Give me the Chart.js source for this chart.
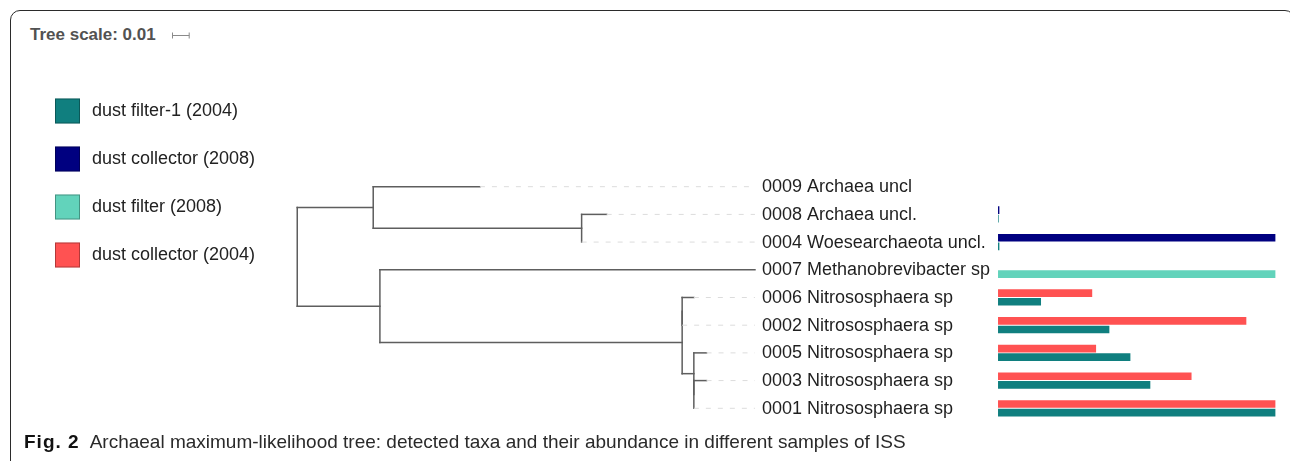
<!DOCTYPE html>
<html>
<head>
<meta charset="utf-8">
<title>Archaeal maximum-likelihood tree</title>
<script src="https://cdn.jsdelivr.net/npm/chart.js@4.4.1/dist/chart.umd.min.js"></script>
<style>
  html, body { margin: 0; padding: 0; background: #fff; overflow: hidden; }
  #wrap { position: relative; width: 1290px; height: 461px; overflow: hidden; }
  #frame {
    position: absolute; left: 10px; top: 10px; width: 1285px; height: 480px;
    box-sizing: border-box; border: 1.5px solid #2b2b2b; border-radius: 10px;
  }
  #title {
    position: absolute; left: 30px; top: 25px; line-height: 18px; white-space: nowrap;
    font: bold 17px "Liberation Sans", Arial, sans-serif; color: #525252;
  }
  #caption {
    position: absolute; left: 24px; top: 431px; line-height: 19px; white-space: nowrap;
    font: 19px "Liberation Sans", Arial, sans-serif; color: #2a2a2a;
  }
  #caption b { font-weight: bold; color: #111; margin-right: 10px; letter-spacing: 1px; }
  canvas { position: absolute; left: 0; top: 0; }
</style>
</head>
<body>
<div id="wrap">
  <div id="frame"></div>
  <div id="title">Tree scale: 0.01</div>
  <canvas id="tree" width="1290" height="461"></canvas>
  <div id="caption"><b>Fig. 2</b>Archaeal maximum-likelihood tree: detected taxa and their abundance in different samples of ISS</div>
</div>
<script>
// Leaves, listed top to bottom
const taxa = [
  '0009 Archaea uncl',
  '0008 Archaea uncl.',
  '0004 Woesearchaeota uncl.',
  '0007 Methanobrevibacter sp',
  '0006 Nitrososphaera sp',
  '0002 Nitrososphaera sp',
  '0005 Nitrososphaera sp',
  '0003 Nitrososphaera sp',
  '0001 Nitrososphaera sp'
];
const taxonParent = ['U', 'N', 'N', 'L', 'F', 'F', 'C', 'E', 'E'];
const taxonBranch = [0.0639, 0.0150, 0, 0.2246, 0.0070, 0, 0.0076, 0.0076, 0];

// Internal nodes (substitutions per site)
const cladeIds    = ['root', 'U', 'N', 'L', 'A', 'F', 'C', 'E'];
const cladeParent = [null, 'root', 'U', 'root', 'L', 'A', 'A', 'C'];
const cladeBranch = [0, 0.0455, 0.1248, 0.0495, 0.1810, 0, 0.0070, 0];

const treeScaleStep = 0.01;

// Relative abundance per taxon (% of series maximum); null = not detected
const seriesNames = ['dust collector (2008)', 'dust collector (2004)', 'dust filter-1 (2004)', 'dust filter (2008)'];
const dustCollector2008 = [null, 0.25, 100, null, null, null, null, null, null];
const dustCollector2004 = [null, null, null, null, 33.8, 89.5, 35.2, 69.7, 100];
const dustFilter1_2004  = [null, 0, 0.25, null, 15.3, 40.0, 47.6, 54.8, 100];
const dustFilter2008    = [null, null, null, 100, null, null, null, null, null];
const seriesColors = ['#000080', '#ff5252', '#107f7f', '#62d3bb'];
const legendOrder = ['dust filter-1 (2004)', 'dust collector (2008)', 'dust filter (2008)', 'dust collector (2004)'];

// ---- tree layout from the branch lengths ----
function cladeIndex(id) { return cladeIds.indexOf(id); }
function cladeDepth(id) {
  const i = cladeIndex(id);
  return cladeParent[i] === null ? 0 : cladeDepth(cladeParent[i]) + cladeBranch[i];
}
const leafDepth = taxa.map((_, i) => cladeDepth(taxonParent[i]) + taxonBranch[i]);
const maxDepth = Math.max(...leafDepth);

function childRows(id) {
  const ys = [];
  taxa.forEach((_, i) => { if (taxonParent[i] === id) ys.push(i); });
  cladeIds.forEach((c, j) => { if (cladeParent[j] === id) ys.push(cladeRow(c)); });
  return ys;
}
function cladeRow(id) {
  const ys = childRows(id);
  return (Math.min(...ys) + Math.max(...ys)) / 2;
}

const branchStyle = { borderColor: '#5e5e5e', borderWidth: 1.5, borderCapStyle: 'square' };
const guideStyle = { borderColor: '#dcdcdc', borderWidth: 1, borderDash: [5, 7] };

const treeDatasets = [];
function segment(x0, y0, x1, y1, style) {
  treeDatasets.push(Object.assign({
    type: 'line', xAxisID: 'xt', yAxisID: 'y',
    data: [{ x: x0, y: y0 }, { x: x1, y: y1 }],
    pointRadius: 0, fill: false, tension: 0
  }, style));
}
// dashed guides from each tip to the label column
taxa.forEach((_, i) => {
  if (leafDepth[i] < maxDepth) segment(leafDepth[i], i, maxDepth, i, guideStyle);
});
// stems of internal nodes
cladeIds.forEach((id, j) => {
  if (cladeParent[j] !== null && cladeBranch[j] > 0) {
    const y = cladeRow(id);
    segment(cladeDepth(cladeParent[j]), y, cladeDepth(id), y, branchStyle);
  }
});
// leaf branches
taxa.forEach((_, i) => {
  if (taxonBranch[i] > 0) segment(cladeDepth(taxonParent[i]), i, leafDepth[i], i, branchStyle);
});
// vertical connectors
cladeIds.forEach(id => {
  const ys = childRows(id), x = cladeDepth(id);
  segment(x, Math.min(...ys), x, Math.max(...ys), branchStyle);
});

// ---- abundance bars ----
function barPoints(values) {
  return values.map((v, i) => (v === null ? null : { x: v, y: i })).filter(p => p);
}
const seriesValues = [dustCollector2008, dustCollector2004, dustFilter1_2004, dustFilter2008];
const barDatasets = seriesNames.map((name, k) => ({
  type: 'bar', label: name, data: barPoints(seriesValues[k]),
  indexAxis: 'y', xAxisID: 'xb', yAxisID: 'y',
  backgroundColor: seriesColors[k], borderWidth: 0,
  barThickness: 8.6, maxBarThickness: 7, skipNull: true
}));

const labelFont = '18px "Liberation Sans", Arial, sans-serif';

const treeDecor = {
  id: 'treeDecor',
  afterDatasetsDraw(chart) {
    const ctx = chart.ctx;
    const xt = chart.scales.xt, ys = chart.scales.y;
    ctx.save();
    // leaf labels
    ctx.font = labelFont;
    ctx.fillStyle = '#1f1f1f';
    ctx.textBaseline = 'middle';
    ctx.textAlign = 'left';
    const labelX = xt.getPixelForValue(maxDepth) + 7;
    taxa.forEach((t, i) => ctx.fillText(t, labelX, ys.getPixelForValue(i) + 0.5));

    // legend
    const boxX = 55, textX = 92, firstY = 111, rowGap = 48, box = 25;
    legendOrder.forEach((name, n) => {
      const ds = chart.data.datasets.find(d => d.label === name);
      const cy = firstY + n * rowGap;
      ctx.fillStyle = ds.backgroundColor;
      ctx.fillRect(boxX, cy - box / 2, box, box);
      ctx.strokeStyle = 'rgba(0,0,0,0.3)';
      ctx.lineWidth = 1;
      ctx.strokeRect(boxX + 0.5, cy - box / 2 + 0.5, box - 1, box - 1);
      ctx.fillStyle = '#222';
      ctx.fillText(name, textX, cy + 0.5);
    });

    // tree scale bar next to its title
    const title = document.getElementById('title').getBoundingClientRect();
    const len = xt.getPixelForValue(treeScaleStep) - xt.getPixelForValue(0);
    const sx = Math.round(title.right) + 16.5, sy = 35.5;
    ctx.strokeStyle = '#8a8a8a';
    ctx.lineWidth = 1;
    ctx.beginPath();
    ctx.moveTo(sx, sy); ctx.lineTo(sx + len, sy);
    ctx.moveTo(sx, sy - 3); ctx.lineTo(sx, sy + 3);
    ctx.moveTo(sx + len, sy - 3); ctx.lineTo(sx + len, sy + 3);
    ctx.stroke();
    ctx.restore();
  }
};

const hidden = { display: false, bounds: 'data', offset: false, grid: { display: false, offset: false } };
new Chart(document.getElementById('tree'), {
  type: 'bar',
  data: { datasets: [...treeDatasets, ...barDatasets] },
  options: {
    responsive: false,
    animation: false,
    events: [],
    layout: { padding: 0, autoPadding: false },
    plugins: { legend: { display: false }, tooltip: { enabled: false }, title: { display: false } },
    scales: {
      xt: Object.assign({ type: 'linear', axis: 'x', min: -0.178, max: 0.5945 }, hidden),
      xb: Object.assign({ type: 'linear', axis: 'x', min: -360.8, max: 105.4 }, hidden),
      y:  Object.assign({ type: 'linear', axis: 'y', reverse: true, min: -6.74, max: 9.903 }, hidden)
    }
  },
  plugins: [treeDecor]
});
</script>
</body>
</html>
